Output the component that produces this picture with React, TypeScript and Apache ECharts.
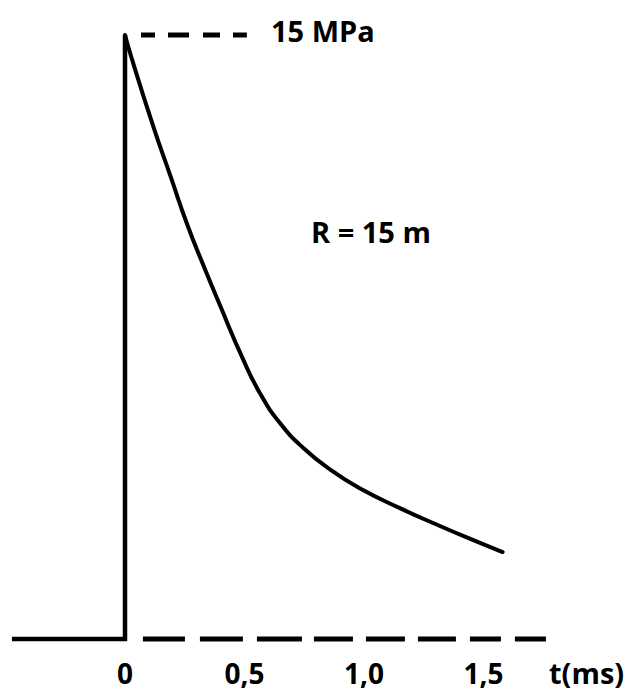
import React, { useEffect, useRef } from "react";
import * as echarts from "echarts";

// Time in ms, pressure in MPa
const baseSolid: [number, number][] = [[-0.473, 0], [0, 0], [0, 15]];
const curveT = [0, 0.03, 0.12, 0.19, 0.26, 0.33, 0.4, 0.49, 0.565, 0.65, 0.745, 0.86, 0.98, 1.15, 1.32, 1.46, 1.58];
const curveP = [15, 14.38, 12.7, 11.5, 10.3, 9.25, 8.25, 7.0, 6.1, 5.35, 4.75, 4.2, 3.75, 3.25, 2.8, 2.45, 2.16];
const baseDashed: [number, number][] = [[0.075, 0], [1.762, 0]];
const peakDashed: [number, number][] = [[0.067, 15], [0.51, 15]];
const tickValues = [0, 0.5, 1.0, 1.5];
const peakLabel = "15 MPa";
const rangeLabel = "R = 15 m";
const axisLabel = "t(ms)";

const FONT = '"Open Sans", "DejaVu Sans", sans-serif';

export default function App() {
  const ref = useRef<HTMLDivElement>(null);
  useEffect(() => {
    document.body.style.margin = "0";
    if (!ref.current) return;
    const chart = echarts.init(ref.current, undefined, { renderer: "svg" });
    const curve = curveT.map((t, i) => [t, curveP[i]]);
    chart.setOption({
      animation: false,
      backgroundColor: "#ffffff",
      grid: { left: 5.5, right: 30, top: 35, bottom: 52 },
      xAxis: {
        type: "value",
        min: -0.5,
        max: 2.0,
        interval: 0.5,
        axisLine: { show: false },
        axisTick: { show: false },
        splitLine: { show: false },
        axisLabel: {
          margin: 20,
          color: "#000",
          fontSize: 28,
          lineHeight: 28,
          fontWeight: "bold",
          fontFamily: FONT,
          formatter: (v: number) => {
            const hit = tickValues.find((tv) => Math.abs(tv - v) < 1e-6);
            if (hit === undefined) return "";
            return hit === 0 ? "0" : hit.toFixed(1).replace(".", ",");
          },
        },
      },
      yAxis: {
        type: "value",
        min: 0,
        max: 15,
        show: false,
        splitLine: { show: false },
      },
      series: [
        {
          type: "line",
          data: baseSolid,
          symbol: "none",
          clip: false,
          lineStyle: { color: "#000", width: 4.5, join: "miter", cap: "butt" },
        },
        {
          type: "line",
          data: curve,
          symbol: "none",
          smooth: 0.5,
          clip: false,
          lineStyle: { color: "#000", width: 4, cap: "round" },
        },
        {
          type: "line",
          data: baseDashed,
          symbol: "none",
          clip: false,
          lineStyle: {
            color: "#000",
            width: 5,
            cap: "butt",
            type: [42, 15, 43, 14, 45, 12, 39, 13, 39, 13, 38, 14, 31, 14, 31, 40],
          },
        },
        {
          type: "line",
          data: peakDashed,
          symbol: "none",
          clip: false,
          lineStyle: {
            color: "#000",
            width: 5,
            cap: "butt",
            type: [14, 13, 21, 14, 17, 13, 14, 40],
          },
        },
      ],
      graphic: [
        {
          type: "text",
          x: 271,
          y: 30,
          style: { text: peakLabel, fill: "#000", font: `bold 29px ${FONT}`, verticalAlign: "middle" },
        },
        {
          type: "text",
          x: 311,
          y: 231,
          style: { text: rangeLabel, fill: "#000", font: `bold 29px ${FONT}`, verticalAlign: "middle" },
        },
        {
          type: "text",
          x: 549,
          y: 672,
          style: { text: axisLabel, fill: "#000", font: `bold 29px ${FONT}`, verticalAlign: "middle" },
        },
      ],
    });
    return () => chart.dispose();
  }, []);
  return <div ref={ref} style={{ width: 633, height: 691 }} />;
}
